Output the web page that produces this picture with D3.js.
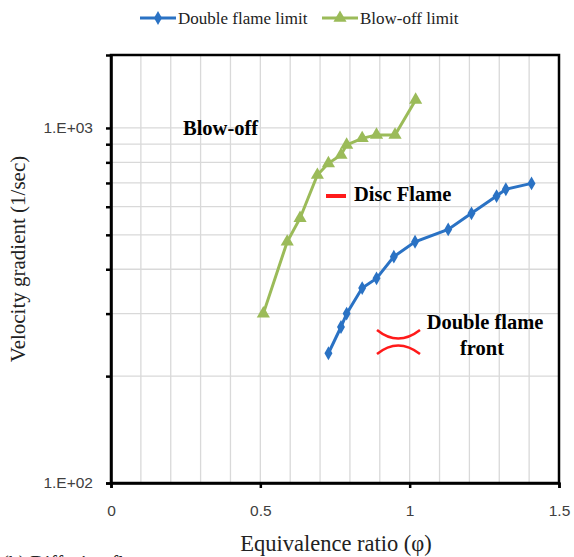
<!DOCTYPE html>
<head>
    <meta charset="utf-8">
    <style>
        html, body { margin: 0; padding: 0; background: #fff; }
        svg { display: block; }
        .serif { font-family: "Liberation Serif", "Times New Roman", serif; }
    </style>
    <script src="https://d3js.org/d3.v7.min.js"></script>
</head>
<body>
    <div id="chart"></div>
    <script>
        // Data
        var blowPhi = [0.51, 0.59, 0.633, 0.691, 0.728, 0.770, 0.789, 0.841, 0.889, 0.951, 1.020];
        var blowGrad = [300, 478, 557, 737, 795, 839, 896, 935, 956, 956, 1199];
        var doublePhi = [0.728, 0.770, 0.789, 0.841, 0.889, 0.947, 1.018, 1.129, 1.207, 1.291, 1.322, 1.408];
        var doubleGrad = [232, 275, 300, 354, 377, 434, 478, 518, 575, 643, 672, 698];
        var xTicks = [0, 0.5, 1, 1.5];
        var yTicks = [100, 1000];
        var yTickLabels = ["1.E+02", "1.E+03"];

        var W = 574, H = 557;
        var m = { left: 111, right: 15, top: 55, bottom: 74 };

        var svg = d3.select("#chart").append("svg")
            .attr("width", W).attr("height", H);

        var x = d3.scaleLinear().domain([0, 1.5]).range([m.left, W - m.right]);
        var y = d3.scaleLog().domain([100, 1605]).range([H - m.bottom, m.top]);

        // grid
        var xGrid = d3.range(1, 15).map(function (i) { return i / 10; });
        var yGrid = d3.range(2, 11).map(function (i) { return i * 100; });
        svg.append("g").selectAll("line.v").data(xGrid).enter().append("line")
            .attr("x1", d => x(d)).attr("x2", d => x(d))
            .attr("y1", y.range()[0]).attr("y2", y.range()[1])
            .attr("stroke", "#d9d9d9").attr("stroke-width", 1.3);
        svg.append("g").selectAll("line.h").data(yGrid).enter().append("line")
            .attr("x1", x.range()[0]).attr("x2", x.range()[1])
            .attr("y1", d => y(d)).attr("y2", d => y(d))
            .attr("stroke", "#d9d9d9").attr("stroke-width", 1.3);

        // frame
        svg.append("rect")
            .attr("x", m.left).attr("y", m.top)
            .attr("width", x.range()[1] - m.left).attr("height", y.range()[0] - m.top)
            .attr("fill", "none").attr("stroke", "#000").attr("stroke-width", 2.5);

        // axes
        var xAxis = svg.append("g")
            .attr("transform", "translate(0," + y.range()[0] + ")")
            .call(d3.axisBottom(x).tickValues(xTicks).tickSize(5).tickPadding(17)
                .tickFormat(d3.format("")));
        var yAxis = svg.append("g")
            .attr("transform", "translate(" + m.left + ",0)")
            .call(d3.axisLeft(y).tickValues(yGrid.concat([100])).tickSize(5).tickPadding(13)
                .tickFormat(function (d) {
                    var i = yTicks.indexOf(d);
                    return i < 0 ? "" : yTickLabels[i];
                }));
        [xAxis, yAxis].forEach(function (a) {
            a.attr("font-family", "'Liberation Sans', Arial, sans-serif").attr("font-size", 15.5);
            a.selectAll(".tick text").attr("fill", "#404040");
            a.select(".domain").attr("stroke", "#000").attr("stroke-width", 2.5);
            a.selectAll(".tick line").attr("stroke", "#000").attr("stroke-width", 2.5);
        });

        // series
        var line = d3.line().x(d => x(d[0])).y(d => y(d[1]));
        var blow = blowPhi.map((p, i) => [p, blowGrad[i]]);
        var dbl = doublePhi.map((p, i) => [p, doubleGrad[i]]);
        var green = "#9bbb59", blue = "#2a72c4";
        var tri = d3.symbol().type(d3.symbolTriangle).size(75);
        var dia = d3.symbol().type(d3.symbolDiamond).size(55);

        svg.append("path").datum(blow).attr("d", line)
            .attr("fill", "none").attr("stroke", green).attr("stroke-width", 3);
        svg.append("g").selectAll("path").data(blow).enter().append("path")
            .attr("d", tri).attr("fill", green)
            .attr("transform", d => "translate(" + x(d[0]) + "," + y(d[1]) + ")");

        svg.append("path").datum(dbl).attr("d", line)
            .attr("fill", "none").attr("stroke", blue).attr("stroke-width", 3);
        svg.append("g").selectAll("path").data(dbl).enter().append("path")
            .attr("d", dia).attr("fill", blue)
            .attr("transform", d => "translate(" + x(d[0]) + "," + y(d[1]) + ")");

        // annotations
        svg.append("text").attr("class", "serif").attr("x", 183).attr("y", 135)
            .attr("font-size", 20.5).attr("font-weight", "bold").text("Blow-off");
        svg.append("line").attr("x1", 326).attr("x2", 346).attr("y1", 196).attr("y2", 196)
            .attr("stroke", "#ff1a1a").attr("stroke-width", 4);
        svg.append("text").attr("class", "serif").attr("x", 354).attr("y", 201)
            .attr("font-size", 20.5).attr("font-weight", "bold").text("Disc Flame");
        svg.append("text").attr("class", "serif").attr("x", 485).attr("y", 329)
            .attr("text-anchor", "middle")
            .attr("font-size", 20.5).attr("font-weight", "bold").text("Double flame");
        svg.append("text").attr("class", "serif").attr("x", 482).attr("y", 355)
            .attr("text-anchor", "middle")
            .attr("font-size", 20.5).attr("font-weight", "bold").text("front");
        svg.append("path").attr("d", "M377,330 Q398,347 420,330")
            .attr("fill", "none").attr("stroke", "#ff1a1a").attr("stroke-width", 2.5);
        svg.append("path").attr("d", "M377,354 Q398,337 420,354")
            .attr("fill", "none").attr("stroke", "#ff1a1a").attr("stroke-width", 2.5);

        // axis titles
        svg.append("text").attr("class", "serif")
            .attr("transform", "translate(25,259) rotate(-90)")
            .attr("text-anchor", "middle").attr("font-size", 21).attr("fill", "#222")
            .text("Velocity  gradient (1/sec)");
        svg.append("text").attr("class", "serif")
            .attr("x", 336).attr("y", 551).attr("text-anchor", "middle")
            .attr("font-size", 22.5).attr("fill", "#222")
            .text("Equivalence ratio (\u03c6)");
        svg.append("text").attr("class", "serif")
            .attr("x", 2).attr("y", 570).attr("font-size", 20).attr("fill", "#222")
            .text("(b) Diffusion flame");

        // legend
        var legend = [
            { label: "Double flame limit", color: blue, sym: dia, x: 140 },
            { label: "Blow-off limit", color: green, sym: tri, x: 322 }
        ];
        var lg = svg.append("g").selectAll("g").data(legend).enter().append("g")
            .attr("transform", d => "translate(" + d.x + ",18)");
        lg.append("line").attr("x1", 0).attr("x2", 36)
            .attr("stroke", d => d.color).attr("stroke-width", 3);
        lg.append("path").attr("d", d => d.sym()).attr("fill", d => d.color)
            .attr("transform", "translate(18,0)");
        lg.append("text").attr("class", "serif").attr("x", 38).attr("y", 6)
            .attr("font-size", 17).attr("fill", "#222").text(d => d.label);
    </script>
</body>
